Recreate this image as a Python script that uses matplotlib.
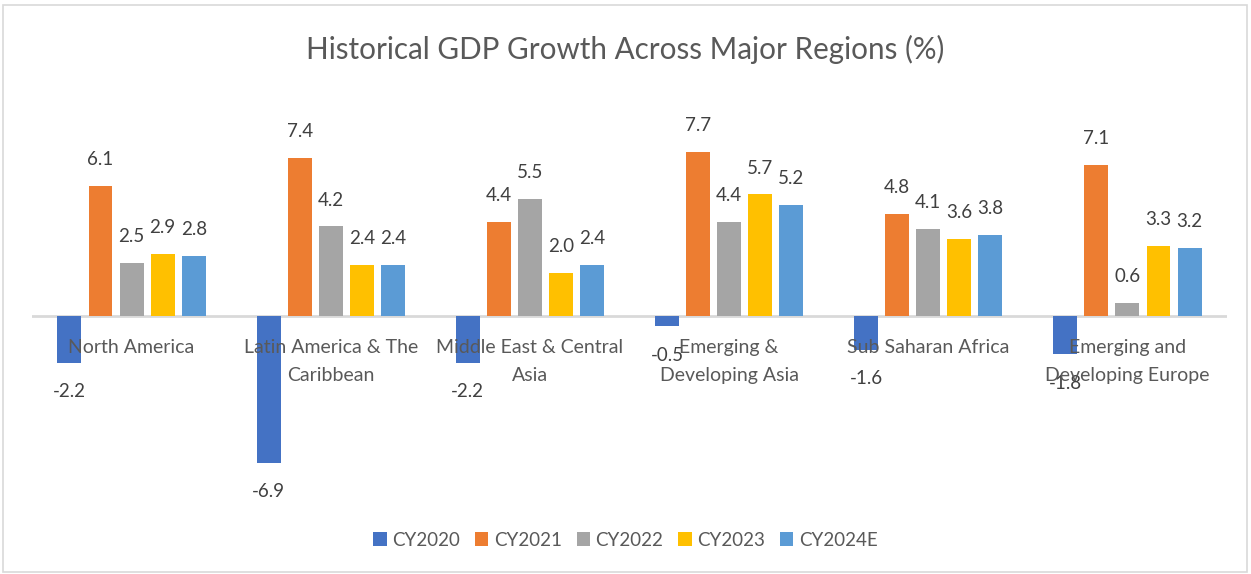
import numpy as np
import matplotlib
matplotlib.use("Agg")
import matplotlib.pyplot as plt
from matplotlib.patches import Rectangle

plt.rcParams['font.family'] = ['Lato', 'DejaVu Sans']

regions = ["North America", "Latin America & The\nCaribbean", "Middle East & Central\nAsia",
           "Emerging &\nDeveloping Asia", "Sub Saharan Africa", "Emerging and\nDeveloping Europe"]
series = ["CY2020", "CY2021", "CY2022", "CY2023", "CY2024E"]
cy2020 = [-2.2, -6.9, -2.2, -0.5, -1.6, -1.8]
cy2021 = [6.1, 7.4, 4.4, 7.7, 4.8, 7.1]
cy2022 = [2.5, 4.2, 5.5, 4.4, 4.1, 0.6]
cy2023 = [2.9, 2.4, 2.0, 5.7, 3.6, 3.3]
cy2024 = [2.8, 2.4, 2.4, 5.2, 3.8, 3.2]
values = [cy2020, cy2021, cy2022, cy2023, cy2024]
colors = ["#4472C4", "#ED7D31", "#A5A5A5", "#FFC000", "#5B9BD5"]

W, H = 1251, 574
fig = plt.figure(figsize=(W / 100, H / 100), dpi=100)
ax = fig.add_axes([32 / W, 1 - 486 / H, 1195 / W, 383 / H])

x = np.arange(len(regions))
step = 0.156
bw = 0.12
for k, (name, vals, c) in enumerate(zip(series, values, colors)):
    pos = x + (k - 2) * step
    ax.bar(pos, vals, width=bw, color=c, label=name, zorder=3)
    for p, v in zip(pos, vals):
        ax.annotate(f"{v:.1f}", (p, v), xytext=(0, 19 if v >= 0 else -21),
                    textcoords="offset points", ha="center", va="center",
                    fontsize=13.5, color="#404040", zorder=4)

ax.axhline(0, color="#D9D9D9", lw=2, zorder=2)
for i, r in enumerate(regions):
    ax.annotate(r, (i, 0), xytext=(0, -17), textcoords="offset points",
                ha="center", va="top", fontsize=14, color="#595959",
                linespacing=1.75, zorder=5)

ax.set_xlim(-0.5, len(regions) - 0.5)
ax.set_ylim(-8, 10)
ax.axis("off")

fig.text(0.5, 1 - 49 / H, "Historical GDP Growth Across Major Regions (%)",
         ha="center", va="center", fontsize=21.3, color="#595959")

fig.legend(loc="center", bbox_to_anchor=(0.5, 1 - 540 / H), ncol=5, frameon=False,
           fontsize=13.5, labelcolor="#595959", handlelength=0.7, handleheight=0.7,
           handletextpad=0.3, columnspacing=0.8)

fig.patches.append(Rectangle((3 / W, 2 / H), 1244 / W, 567 / H, transform=fig.transFigure,
                             fill=False, edgecolor="#D9D9D9", lw=1.2))

fig.savefig("out.png", dpi=100)
